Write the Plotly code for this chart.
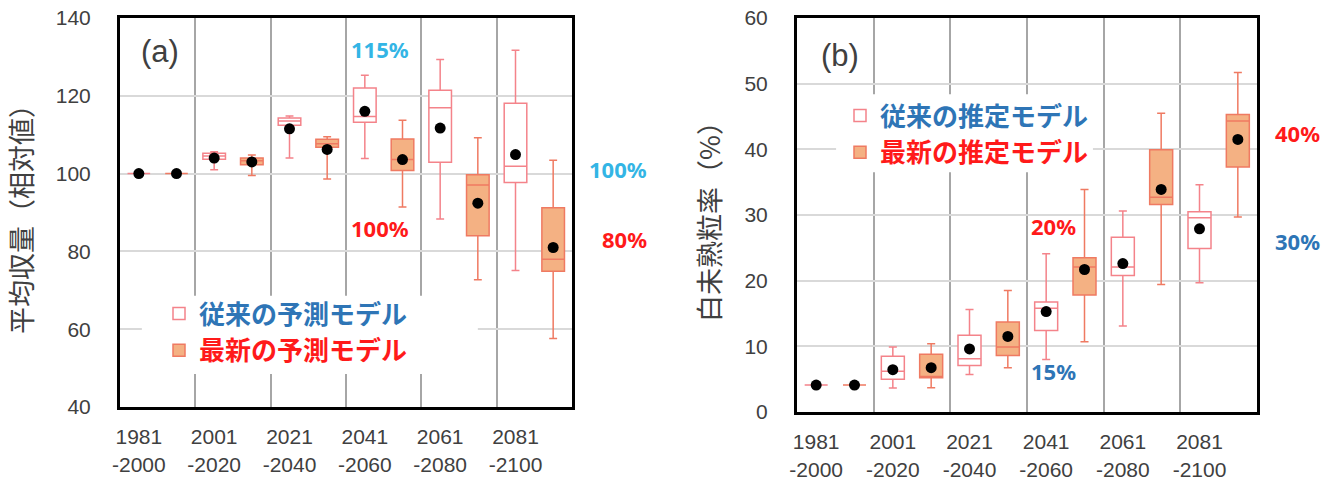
import plotly.graph_objects as go
from plotly.subplots import make_subplots

# ---------------- data ----------------
periods = ["1981-2000", "2001-2020", "2021-2040", "2041-2060", "2061-2080", "2081-2100"]

# (a) mean yield (relative)
a_conv_lower = [100, 101.0, 104.0, 103.9, 88.3, 75.1]
a_conv_q1 = [100, 103.7, 112.4, 113.2, 102.9, 97.7]
a_conv_median = [100, 104.5, 113.5, 114.7, 116.9, 101.9]
a_conv_q3 = [100, 105.2, 114.3, 122.0, 121.4, 118.1]
a_conv_upper = [100, 105.6, 114.8, 125.3, 129.3, 131.7]
a_conv_mean = [100, 104.0, 111.5, 116.0, 111.7, 104.9]

a_new_lower = [100, 99.5, 98.6, 91.4, 72.7, 57.6]
a_new_q1 = [100, 102.3, 106.8, 100.8, 84.0, 74.9]
a_new_median = [100, 103.3, 107.7, 103.6, 97.1, 78.0]
a_new_q3 = [100, 104.0, 108.8, 108.9, 99.7, 91.2]
a_new_upper = [100, 104.8, 109.5, 113.7, 109.2, 103.4]
a_new_mean = [100, 103.0, 106.2, 103.6, 92.4, 81.0]

# (b) chalky grain ratio (%)
b_conv_lower = [4.1, 3.65, 5.7, 8.0, 13.1, 19.7]
b_conv_q1 = [4.1, 5.0, 7.1, 12.4, 20.8, 24.9]
b_conv_median = [4.1, 6.2, 8.1, 15.8, 22.1, 29.6]
b_conv_q3 = [4.1, 8.5, 11.7, 16.75, 26.6, 30.5]
b_conv_upper = [4.1, 9.9, 15.6, 24.1, 30.6, 34.6]
b_conv_mean = [4.1, 6.45, 9.6, 15.3, 22.6, 27.9]

b_new_lower = [4.1, 3.7, 6.75, 10.7, 19.4, 29.7]
b_new_q1 = [4.1, 5.2, 8.6, 17.8, 31.6, 37.3]
b_new_median = [4.1, 5.4, 9.9, 22.1, 32.7, 44.3]
b_new_q3 = [4.1, 8.8, 13.7, 23.5, 39.95, 45.3]
b_new_upper = [4.1, 10.4, 18.5, 33.9, 45.5, 51.7]
b_new_mean = [4.1, 6.75, 11.5, 21.7, 33.9, 41.5]

# ---------------- style ----------------
CONV_LINE = "#F4838A"
NEW_LINE = "#EF7A62"
NEW_FILL = "#F4B183"
BLUE = "#2E75B6"
CYAN = "#33B5E5"
RED = "#FF1A1A"
TXT = "#404040"
NUM_FONT = "Liberation Sans, Arial, sans-serif"
CJK_FONT = "Noto Sans CJK JP, sans-serif"
LBL_FONT = "Noto Sans, sans-serif"

n = len(periods)
x_conv = [i - 0.25 for i in range(n)]
x_new = [i + 0.25 for i in range(n)]
boundaries = [i + 0.5 for i in range(n - 1)]
tick_text = [p.replace("-", "<br>-", 1) for p in periods]

fig = make_subplots(rows=1, cols=2)


def add_panel(col, conv, new, names, legend):
    for (lo, q1, med, q3, up, mean), name, xs, line, fill in (
        (conv, names[0], x_conv, CONV_LINE, "white"),
        (new, names[1], x_new, NEW_LINE, NEW_FILL),
    ):
        fig.add_trace(
            go.Box(
                x=xs, lowerfence=lo, q1=q1, median=med, q3=q3, upperfence=up,
                name=name, width=0.3, whiskerwidth=0.35,
                line=dict(color=line, width=1.5), fillcolor=fill,
                legend=legend, showlegend=True, hoverinfo="skip",
            ),
            row=1, col=col,
        )
        fig.add_trace(
            go.Scatter(
                x=xs, y=mean, mode="markers",
                marker=dict(color="black", size=11),
                showlegend=False, hoverinfo="skip",
            ),
            row=1, col=col,
        )


add_panel(
    1,
    (a_conv_lower, a_conv_q1, a_conv_median, a_conv_q3, a_conv_upper, a_conv_mean),
    (a_new_lower, a_new_q1, a_new_median, a_new_q3, a_new_upper, a_new_mean),
    (f"<span style='color:{BLUE}'>従来の予測モデル</span>",
     f"<span style='color:{RED}'>最新の予測モデル</span>"),
    "legend",
)
add_panel(
    2,
    (b_conv_lower, b_conv_q1, b_conv_median, b_conv_q3, b_conv_upper, b_conv_mean),
    (b_new_lower, b_new_q1, b_new_median, b_new_q3, b_new_upper, b_new_mean),
    (f"<span style='color:{BLUE}'>従来の推定モデル</span>",
     f"<span style='color:{RED}'>最新の推定モデル</span>"),
    "legend2",
)

xaxis_common = dict(
    range=[-0.5, n - 0.5], tickmode="array", tickvals=x_conv, ticktext=tick_text,
    showgrid=False, zeroline=False, automargin=False,
    minor=dict(tickmode="array", tickvals=boundaries, showgrid=True,
               gridcolor="#A6A6A6", gridwidth=1.5, ticks=""),
    showline=True, mirror=True, linecolor="black", linewidth=3,
    ticks="", ticklabelstandoff=9,
    tickfont=dict(family=NUM_FONT, size=21, color=TXT),
)
yaxis_common = dict(
    showgrid=True, gridcolor="#D9D9D9", gridwidth=1.5, zeroline=False,
    showline=True, mirror=True, linecolor="black", linewidth=3, automargin=False,
    ticks="", ticklabelstandoff=22,
    tickfont=dict(family=NUM_FONT, size=21, color=TXT),
    title_font=dict(family=CJK_FONT, size=27, color=TXT), title_standoff=16,
)

fig.update_xaxes(domain=[120 / 1327, 572 / 1327], row=1, col=1, **xaxis_common)
fig.update_xaxes(domain=[797 / 1327, 1257 / 1327], row=1, col=2, **xaxis_common)
fig.update_yaxes(range=[40, 140], tickvals=[40, 60, 80, 100, 120, 140],
                 domain=[72 / 479, 461 / 479], title_text="平均収量（相対値）",
                 row=1, col=1, **yaxis_common)
fig.update_yaxes(range=[0, 60], tickvals=[0, 10, 20, 30, 40, 50, 60],
                 domain=[67 / 479, 461 / 479], title_text="白未熟粒率（%）",
                 row=1, col=2, **yaxis_common)

# white background behind the legends (covers the grid lines)
fig.add_shape(type="rect", xref="x", yref="y", x0=-0.21, x1=4.25, y0=48.5, y1=68.6,
              fillcolor="white", line_width=0, layer="between")
fig.add_shape(type="rect", xref="x2", yref="y2", x0=0.01, x1=3.36, y0=36.5, y1=48.4,
              fillcolor="white", line_width=0, layer="between")

legend_common = dict(
    bgcolor="rgba(0,0,0,0)", borderwidth=0, xanchor="left", yanchor="top",
    font=dict(family=CJK_FONT, size=26, weight="bold"), tracegroupgap=0,
    itemclick=False, itemdoubleclick=False,
)
fig.update_layout(
    legend=dict(x=159 / 1327, y=1 - 290 / 479, **legend_common),
    legend2=dict(x=840 / 1327, y=1 - 92 / 479, **legend_common),
)


# panel labels and percentage annotations
def note(text, x, y, color, xref, yref, size=22, font=LBL_FONT, bold=True):
    fig.add_annotation(text=f"<b>{text}</b>" if bold else text, x=x, y=y,
                       xref=xref, yref=yref, showarrow=False,
                       xanchor="center", yanchor="middle",
                       font=dict(family=font, size=size, color=color))


note("(a)", 0.03, 131.3, TXT, "x", "y", size=31, font=NUM_FONT, bold=False)
note("115%", 2.95, 132.1, CYAN, "x", "y")
note("100%", 2.95, 86.1, RED, "x", "y")
note("100%", 1.102, 101.2, CYAN, "x domain", "y")
note("80%", 1.117, 83.3, RED, "x domain", "y")

note("(b)", 0.06, 54.3, TXT, "x2", "y2", size=31, font=NUM_FONT, bold=False)
note("20%", 2.84, 28.4, RED, "x2", "y2")
note("15%", 2.84, 6.2, BLUE, "x2", "y2")
note("40%", 1.087, 42.5, RED, "x2 domain", "y2")
note("30%", 1.087, 26.0, BLUE, "x2 domain", "y2")

fig.update_layout(
    width=1327, height=479,
    margin=dict(l=0, r=0, t=0, b=0),
    paper_bgcolor="white", plot_bgcolor="white",
    boxmode="overlay",
)

fig.write_html(
    "out.html",
    config={"displayModeBar": False},
    post_script="document.body.style.margin='0';"
                "document.documentElement.style.overflow='hidden';",
)
